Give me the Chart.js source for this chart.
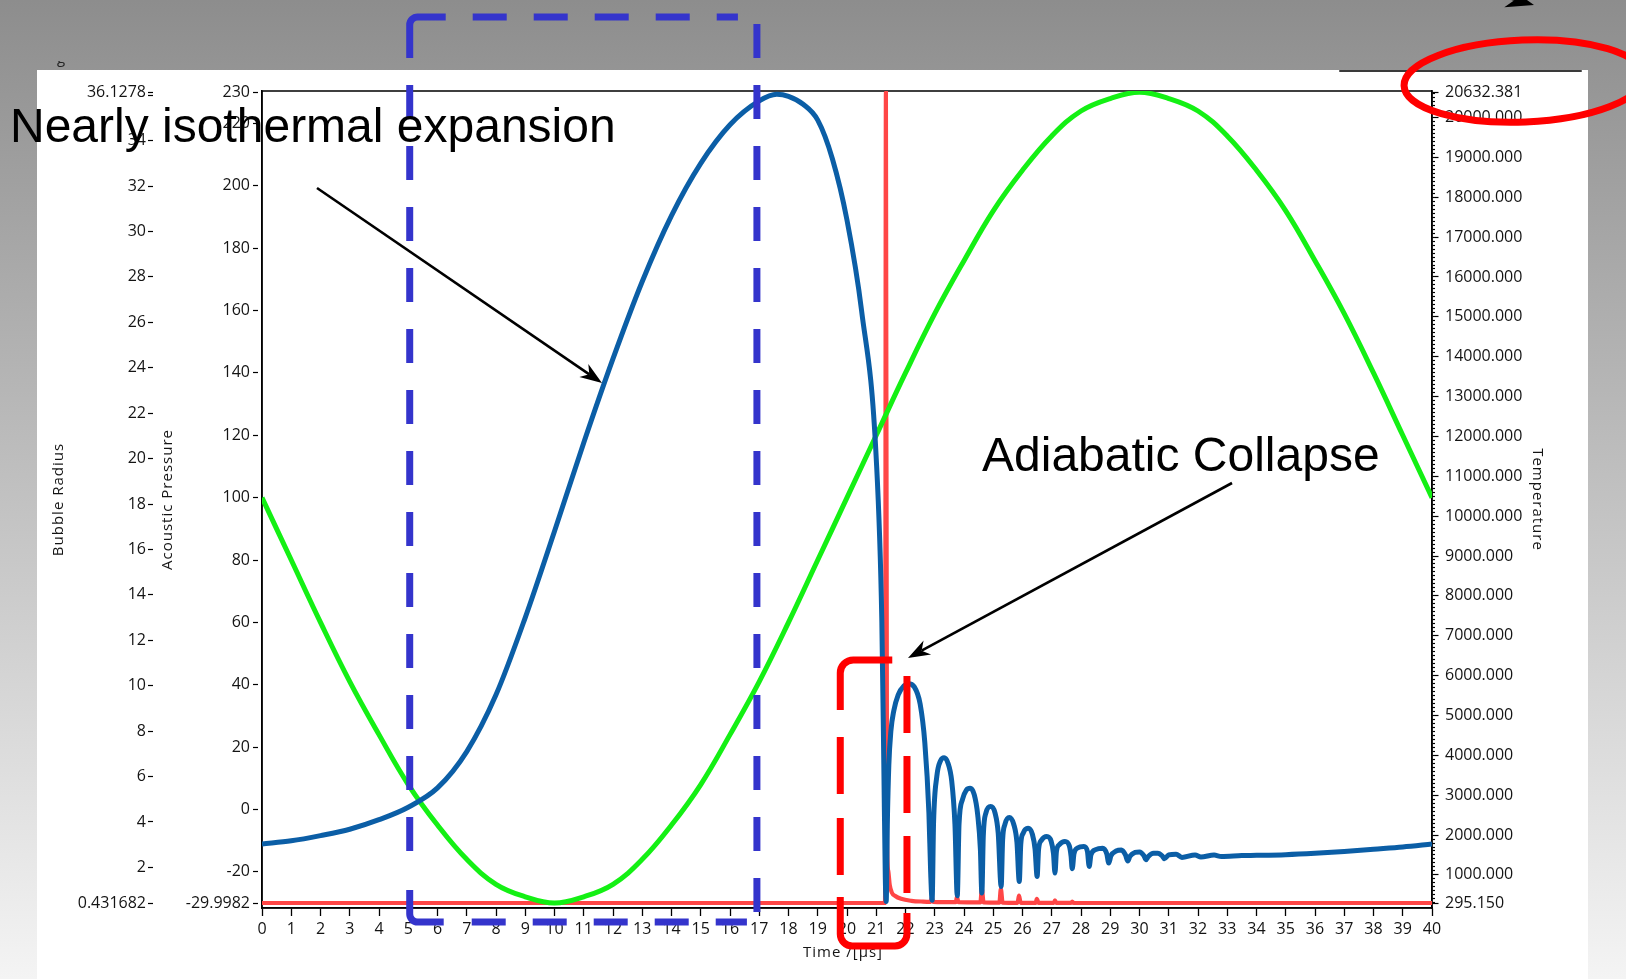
<!DOCTYPE html>
<html>
<head>
<meta charset="utf-8">
<script src="https://cdn.jsdelivr.net/npm/chart.js@4.4.1/dist/chart.umd.min.js"></script>
<style>
html,body{margin:0;padding:0;overflow:hidden;background:#fff}
canvas{display:block}
</style>
</head>
<body>
<canvas id="c" width="1626" height="979"></canvas>
<script>
// ---------------- data ----------------
const pressureTime = [0,1,2,3,4,5,6,7,8,9,10,11,12,13,14,15,16,17,18,19,20,21,22,23,24,25,26,27,28,29,30,31,32,33,34,35,36,37,38,39,40];
const pressure = [100,80,60,41,24,8,-5,-16,-24,-28,-30,-28,-24,-16,-5,8,24,41,60,80,100,120,140,159,176,192,205,216,224,228,230,228,224,216,205,192,176,159,140,120,100];

const radiusTime = [
  0,1,2,3,4,5,6,7,8,9,10,11,12,13,14,15,16,17,17.6,18,18.5,19,19.5,20,20.5,21,21.19,21.26,21.31,21.34,
  21.38,21.43,21.5,21.6,21.75,21.95,22.1,22.3,22.5,22.66,22.8,22.86,22.91,
  22.96,23.07,23.2,23.32,23.45,23.58,23.69,23.77,
  23.83,23.95,24.08,24.21,24.35,24.47,24.56,24.61,
  24.66,24.75,24.91,25.06,25.17,25.27,
  25.32,25.4,25.55,25.7,25.81,25.89,
  25.94,26.02,26.19,26.34,26.43,26.5,
  26.55,26.65,26.83,26.98,27.06,27.11,
  27.16,27.26,27.45,27.6,27.66,27.7,
  27.76,27.88,28.1,28.22,28.28,
  28.34,28.5,28.74,28.88,28.95,
  29.02,29.2,29.38,29.52,29.6,
  29.67,29.85,30.0,30.15,30.22,
  30.3,30.48,30.62,30.78,30.85,
  31.0,31.25,31.45,31.9,32.1,32.55,32.8,33.5,34,35,36,37,38,39,40
];
const radius = [
  3.03,3.17,3.4,3.68,4.1,4.65,5.5,7.1,9.6,13.0,16.8,20.7,24.4,27.8,30.7,33.0,34.7,35.75,36.04,35.95,35.6,34.9,33.2,30.5,26.5,20.0,12.9,6.4,1.5,0.5,
  4.0,6.5,8.0,8.9,9.6,10.0,10.09,9.95,9.2,7.5,4.4,1.8,0.55,
  4.0,6.0,6.7,6.83,6.6,5.8,3.9,0.75,
  3.9,5.0,5.4,5.48,5.2,4.3,2.8,0.87,
  3.4,4.4,4.68,4.4,3.5,1.16,
  3.2,3.9,4.2,3.9,3.1,1.38,
  3.0,3.5,3.72,3.45,2.8,1.6,
  2.8,3.2,3.36,3.15,2.6,1.75,
  2.7,3.0,3.14,2.95,2.5,1.94,
  2.6,2.85,2.92,2.7,2.04,
  2.55,2.78,2.84,2.6,2.19,
  2.5,2.72,2.76,2.55,2.28,
  2.48,2.66,2.68,2.52,2.34,
  2.48,2.62,2.62,2.5,2.38,
  2.55,2.58,2.44,2.55,2.46,2.54,2.48,2.52,2.53,2.56,2.62,2.7,2.8,2.9,3.03
];

const tempTime = [0,21.30,21.33,21.37,21.41,21.46,21.53,21.65,21.85,22.2,22.6,22.86,22.9,22.95,23.72,23.76,23.81,24.56,24.61,24.67,25.21,25.26,25.32,25.83,25.88,25.94,26.45,26.49,26.55,27.07,27.11,27.16,27.66,27.7,27.75,28.5,40];
const temperature = [295.15,295.15,20632.381,1900,1100,750,560,470,400,350,330,325,430,325,315,450,315,310,650,310,305,650,305,300,480,300,298,400,298,297,360,297,296,330,296,295.15,295.15];

// axis ranges and tick labels
const timeRange = [0, 40];
const pressureRange = [-29.9982, 230];
const radiusRange = [0.431682, 36.1278];
const tempRange = [295.15, 20632.381];
const pressureTicks = [-29.9982,-20,0,20,40,60,80,100,120,140,160,180,200,220,230];
const radiusTicks = [0.431682,2,4,6,8,10,12,14,16,18,20,22,24,26,28,30,32,34,36,36.1278];
const radiusHidden = [36];
const tempMajor = [295.15,1000,2000,3000,4000,5000,6000,7000,8000,9000,10000,11000,12000,13000,14000,15000,16000,17000,18000,19000,20000,20632.381];
const tempMinorStep = 100;

// ---------------- styling ----------------
const F = "'Open Sans','Noto Sans',sans-serif";
const ARIAL = "'Liberation Sans',Arial,sans-serif";
const TXT = '#141414';
const PAD_TOP = 1.3 / 811, PAD_BOTTOM = 5 / 811;   // small inner margin of the plot frame
const padded = r => { const d = r[1] - r[0]; return { min: r[0] - d * PAD_BOTTOM, max: r[1] + d * PAD_TOP }; };

const tempTicks = tempMajor.slice();
for (let v = 300; v < tempRange[1]; v += tempMinorStep) if (!tempTicks.includes(v)) tempTicks.push(v);
tempTicks.sort((a,b)=>a-b);

const pts = (xs, ys) => xs.map((x,i)=>({x, y: ys[i]}));

function spacedTitle(s, dx) {
  if (s._spacedTitle) return;
  s._spacedTitle = true;
  const orig = s.drawTitle;
  s.drawTitle = function () {
    const ctx = this.ctx, old = ctx.letterSpacing;
    ctx.save();
    ctx.translate(dx || 0, 0);
    ctx.letterSpacing = '1px';
    orig.call(this);
    ctx.restore();
    ctx.letterSpacing = old || '0px';
  };
}

const bgPlugin = {
  id: 'bg',
  beforeDraw(c) {
    const ctx = c.ctx; ctx.save();
    const g = ctx.createLinearGradient(0,0,0,979);
    g.addColorStop(0,'#8d8d8d'); g.addColorStop(1,'#f4f4f4');
    ctx.fillStyle = g; ctx.fillRect(0,0,1626,979);
    ctx.fillStyle = '#ffffff'; ctx.fillRect(37,70,1551,909);
    ctx.strokeStyle = '#3a3a3a'; ctx.lineWidth = 2; ctx.lineCap = 'round';
    ctx.beginPath(); ctx.moveTo(1340,71); ctx.lineTo(1581,71); ctx.stroke();
    ctx.beginPath(); ctx.rect(40,61,40,12); ctx.clip();
    ctx.fillStyle = '#222'; ctx.font = "15px " + F; ctx.fillText('g', 57, 63);
    ctx.restore();
  },
  beforeDatasetsDraw(c) {
    const a = c.chartArea, ctx = c.ctx; ctx.save();
    ctx.strokeStyle = '#000'; ctx.lineWidth = 1.5;
    ctx.strokeRect(a.left, a.top, a.right - a.left, a.bottom - a.top);
    ctx.restore();
  }
};

function dashes(ctx, ax, ay, bx, by, start, dash, gap, end) {
  const L = Math.hypot(bx-ax, by-ay), ux = (bx-ax)/L, uy = (by-ay)/L;
  for (let s = start; s < end; s += dash + gap) {
    const e = Math.min(s + dash, end);
    ctx.beginPath(); ctx.moveTo(ax+ux*s, ay+uy*s); ctx.lineTo(ax+ux*e, ay+uy*e); ctx.stroke();
  }
}
function arrow(ctx, x1, y1, x2, y2, lw, head) {
  const a = Math.atan2(y2-y1, x2-x1), c = Math.cos(a), s = Math.sin(a);
  const back = head*0.7, w = head*0.36;
  ctx.strokeStyle = '#000'; ctx.fillStyle = '#000'; ctx.lineWidth = lw; ctx.lineCap = 'butt';
  ctx.beginPath(); ctx.moveTo(x1,y1); ctx.lineTo(x2-c*back, y2-s*back); ctx.stroke();
  ctx.beginPath(); ctx.moveTo(x2,y2);
  ctx.lineTo(x2 - head*c + w*s, y2 - head*s - w*c);
  ctx.lineTo(x2 - back*c, y2 - back*s);
  ctx.lineTo(x2 - head*c - w*s, y2 - head*s + w*c);
  ctx.closePath(); ctx.fill();
}

const annoPlugin = {
  id: 'anno',
  afterDraw(c) {
    const ctx = c.ctx, xs = c.scales.x;
    ctx.save();
    ctx.lineCap = 'butt';
    {
      const x0 = xs.getPixelForValue(5.05), x1 = xs.getPixelForValue(16.92), y0 = 17, y1 = 922;
      ctx.strokeStyle = '#3434cc'; ctx.lineWidth = 7;
      ctx.beginPath(); ctx.moveTo(x0, y0+41); ctx.arcTo(x0, y0, x0+36, y0, 8); ctx.lineTo(x0+36, y0); ctx.stroke();
      dashes(ctx, x0, y0, x1, y0, 63, 34, 27, (x1-x0)-19);
      dashes(ctx, x1, y0, x1, y1, 7, 34, 27, (y1-y0)-8);
      dashes(ctx, x0, y0, x0, y1, 68, 34, 27, (y1-y0)-56);
      ctx.beginPath(); ctx.moveTo(x0, y1-32); ctx.arcTo(x0, y1, x0+34, y1, 8); ctx.lineTo(x0+34, y1); ctx.stroke();
      dashes(ctx, x0, y1, x1, y1, 62, 34, 27, (x1-x0)-10);
    }
    {
      const x0 = xs.getPixelForValue(19.77), x1 = xs.getPixelForValue(22.05), y0 = 660, y1 = 946;
      ctx.strokeStyle = '#ff0000'; ctx.lineWidth = 7;
      ctx.beginPath(); ctx.moveTo(x0+52, y0); ctx.arcTo(x0, y0, x0, y0+50, 13); ctx.lineTo(x0, y0+50); ctx.stroke();
      dashes(ctx, x0, y0, x0, y1, 77, 57, 24, 215);
      ctx.beginPath(); ctx.moveTo(x0, y1-49); ctx.arcTo(x0, y1, x1, y1, 12); ctx.arcTo(x1, y1, x1, y1-33, 12); ctx.lineTo(x1, y1-33); ctx.stroke();
      dashes(ctx, x1, y1, x1, y0, 53, 57, 23, (y1-y0)-13);
    }
    ctx.strokeStyle = '#ff0000'; ctx.lineWidth = 7;
    ctx.beginPath(); ctx.ellipse(1524, 81, 120, 41, -0.04, 0, Math.PI*2); ctx.stroke();
    ctx.fillStyle = '#000'; ctx.font = "48px " + ARIAL; ctx.textBaseline = 'alphabetic';
    ctx.fillText('Nearly isothermal expansion', 10, 142);
    ctx.fillText('Adiabatic Collapse', 982, 471);
    arrow(ctx, 317, 188, 602, 383, 2.6, 22);
    arrow(ctx, 1232, 483, 908, 658, 2.6, 22);
    arrow(ctx, 1420, -27, 1534, 5, 2.6, 28);
    ctx.restore();
  }
};

const titleFont = { family: F, size: 15 };
const tickFont = { family: F, size: 16 };

const chart = new Chart(document.getElementById('c'), {
  type: 'line',
  data: {
    datasets: [
      { label: 'Bubble Radius', data: pts(radiusTime, radius), yAxisID: 'yR', borderColor: '#0b5ea6', borderWidth: 5, cubicInterpolationMode: 'monotone', order: 0 },
      { label: 'Acoustic Pressure', data: pts(pressureTime, pressure), yAxisID: 'yP', borderColor: '#14f014', borderWidth: 5, tension: 0.4, order: 1 },
      { label: 'Temperature', data: pts(tempTime, temperature), yAxisID: 'yT', borderColor: '#ff4646', borderWidth: 4.2, cubicInterpolationMode: 'monotone', order: 2 }
    ]
  },
  options: {
    responsive: false,
    devicePixelRatio: 1,
    animation: false,
    events: [],
    elements: { point: { radius: 0 }, line: { fill: false } },
    layout: { padding: { left: 46, right: 76, top: 91, bottom: 12 } },
    plugins: { legend: { display: false }, tooltip: { enabled: false } },
    scales: {
      x: {
        type: 'linear', position: 'bottom', min: timeRange[0], max: timeRange[1],
        ticks: { stepSize: 1, autoSkip: false, maxRotation: 0, color: TXT, font: tickFont, padding: 4 },
        grid: { drawOnChartArea: false, tickLength: 8, tickColor: '#000', tickWidth: 1.3 },
        border: { display: true, color: '#000', width: 1.5 },
        title: { display: true, text: 'Time /[µs]', color: TXT, font: titleFont, padding: { top: 0, bottom: 5 } },
        afterFit(s) { s.height = 59; spacedTitle(s, -4); }
      },
      yP: {
        type: 'linear', position: 'left', weight: 0, ...padded(pressureRange),
        afterBuildTicks(s) { s.ticks = pressureTicks.map(v => ({ value: v })); },
        ticks: { autoSkip: false, color: TXT, font: tickFont, padding: 3, callback: v => String(v) },
        grid: { drawOnChartArea: false, tickLength: 9, tickColor: '#000', tickWidth: 1.2, tickBorderDash: [5, 10] },
        border: { display: true, color: '#000', width: 1.5 },
        title: { display: true, text: 'Acoustic Pressure', color: TXT, font: titleFont, padding: { top: 6, bottom: 0 } },
        afterFit(s) { s.width = 109; spacedTitle(s, 0); }
      },
      yR: {
        type: 'linear', position: 'left', weight: 1, ...padded(radiusRange),
        afterBuildTicks(s) { s.ticks = radiusTicks.map(v => ({ value: v })); },
        ticks: { autoSkip: false, color: TXT, font: tickFont, padding: 2, callback: v => radiusHidden.includes(v) ? '' : String(v) },
        grid: { drawOnChartArea: false, tickLength: 5, tickColor: '#000', tickWidth: 1.2 },
        border: { display: false },
        title: { display: true, text: 'Bubble Radius', color: TXT, font: titleFont, padding: { top: 4, bottom: 0 } },
        afterFit(s) { s.width = 107; spacedTitle(s, 0); }
      },
      yT: {
        type: 'linear', position: 'right', ...padded(tempRange),
        afterBuildTicks(s) { s.ticks = tempTicks.map(v => ({ value: v })); },
        ticks: { autoSkip: false, color: TXT, font: tickFont, padding: 3,
                 callback: v => tempMajor.includes(v) ? v.toFixed(3) : '' },
        grid: { drawOnChartArea: false, tickLength: 10, tickColor: '#000', tickWidth: 1.2,
                tickBorderDash: ctx => (ctx.tick && tempMajor.includes(ctx.tick.value)) ? [6, 20] : [2.5, 20] },
        border: { display: true, color: '#000', width: 1.5 },
        title: { display: true, text: 'Temperature', color: TXT, font: titleFont, padding: { top: 4, bottom: 0 } },
        afterFit(s) { s.width = 118; spacedTitle(s, 0); }
      }
    }
  },
  plugins: [bgPlugin, annoPlugin]
});
</script>
</body>
</html>
